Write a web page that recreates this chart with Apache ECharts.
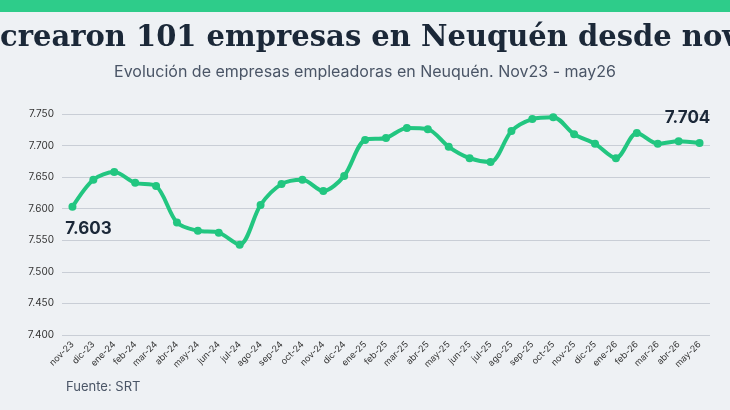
<!DOCTYPE html>
<html><head><meta charset="utf-8">
<script src="https://cdn.jsdelivr.net/npm/echarts@6/dist/echarts.min.js"></script>
<style>body{margin:0;background:#eef1f4}#c{width:730px;height:410px}</style>
</head><body><div id="c"></div>
<script>
var months = ['nov-23','dic-23','ene-24','feb-24','mar-24','abr-24','may-24','jun-24','jul-24','ago-24','sep-24','oct-24','nov-24','dic-24','ene-25','feb-25','mar-25','abr-25','may-25','jun-25','jul-25','ago-25','sep-25','oct-25','nov-25','dic-25','ene-26','feb-26','mar-26','abr-26','may-26'];
var empresas = [7603,7646,7658,7641,7636,7578,7565,7562,7543,7606,7639,7646,7628,7652,7709,7712,7728,7726,7698,7680,7674,7723,7742,7745,7718,7703,7680,7720,7703,7707,7704];
var fmt = function (v) { return String(v).replace(/\B(?=(\d{3})+(?!\d))/g, '.'); };
var chart = echarts.init(document.getElementById('c'));
chart.setOption({
  backgroundColor: '#eef1f4',
  graphic: [
    {type: 'rect', shape: {x: 0, y: 0, width: 730, height: 12}, style: {fill: '#2ecc8a'}},
    {type: 'text', left: 'center', top: 24, style: {text: 'Se crearon 101 empresas en Neuquén desde nov23', font: 'bold 29px "DejaVu Serif", serif', fill: '#1b2838'}},
    {type: 'text', left: 'center', top: 64, style: {text: 'Evolución de empresas empleadoras en Neuquén. Nov23 - may26', font: '16px Inter, sans-serif', fill: '#4a5566'}},
    {type: 'text', left: 66, top: 381, style: {text: 'Fuente: SRT', font: '13px Inter, sans-serif', fill: '#4a5566'}}
  ],
  grid: {left: 62, right: 20, top: 114, bottom: 75},
  xAxis: {
    type: 'category', data: months, boundaryGap: ['1.5%', '1.5%'],
    axisLine: {show: false}, axisTick: {show: false},
    axisLabel: {rotate: 45, fontSize: 9, color: '#333', fontFamily: 'Inter', interval: 0}
  },
  yAxis: {
    type: 'value', min: 7400, max: 7750, interval: 50,
    axisLabel: {formatter: fmt, fontSize: 10, color: '#333', fontFamily: 'Inter'},
    splitLine: {lineStyle: {color: '#c9ced6'}}
  },
  series: [{
    type: 'line', data: empresas, smooth: 0.3,
    symbol: 'circle', symbolSize: 8,
    lineStyle: {color: '#22c680', width: 4},
    itemStyle: {color: '#22c680'},
    label: {
      show: true, fontSize: 17, fontWeight: 'bold', color: '#1b2838', fontFamily: 'Inter',
      formatter: function (p) { return (p.dataIndex === 0 || p.dataIndex === empresas.length - 1) ? fmt(p.value) : ''; },
      position: 'bottom', distance: 10
    },
    labelLayout: function (p) {
      if (p.dataIndex === empresas.length - 1) return {dy: -48, dx: -12};
      return {dx: 16};
    }
  }]
});
</script></body></html>
